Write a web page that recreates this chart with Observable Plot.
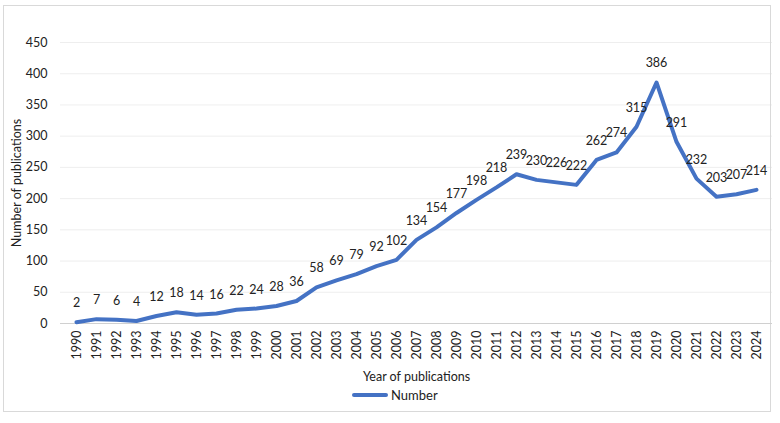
<!DOCTYPE html>
<html>
<head>
<meta charset="utf-8">
<script src="https://cdn.jsdelivr.net/npm/d3@7"></script>
<script src="https://cdn.jsdelivr.net/npm/@observablehq/plot@0.6"></script>
<style>
  html, body { margin: 0; padding: 0; background: #fff; }
  #wrap { position: relative; width: 780px; height: 423px; font-family: Lato, "Open Sans", sans-serif; }
  #frame { position: absolute; left: 3px; top: 5px; width: 768px; height: 407px; border: 1px solid #d9d9d9; box-sizing: border-box; }
  #chart { position: absolute; left: 0; top: 0; }
  #legend { position: absolute; left: 352px; top: 387px; display: flex; align-items: center; font-size: 13px; color: #222; }
  #legend .swatch { width: 36px; height: 4px; background: #4472c4; border-radius: 2px; margin-right: 3px; }
</style>
</head>
<body>
<div id="wrap">
  <div id="frame"></div>
  <div id="chart"></div>
  <div id="legend"><span class="swatch"></span><span>Number</span></div>
</div>
<script>
// Yearly publication counts
const years = ["1990","1991","1992","1993","1994","1995","1996","1997","1998","1999",
  "2000","2001","2002","2003","2004","2005","2006","2007","2008","2009",
  "2010","2011","2012","2013","2014","2015","2016","2017","2018","2019",
  "2020","2021","2022","2023","2024"];
const counts = [2, 7, 6, 4, 12, 18, 14, 16, 22, 24,
  28, 36, 58, 69, 79, 92, 102, 134, 154, 177,
  198, 218, 239, 230, 226, 222, 262, 274, 315, 386,
  291, 232, 203, 207, 214];
const yTicks = [0, 50, 100, 150, 200, 250, 300, 350, 400, 450];

const data = years.map((year, i) => ({year, count: counts[i]}));

const chart = Plot.plot({
  width: 780,
  height: 385,
  marginLeft: 60,
  marginRight: 8,
  marginTop: 42,
  marginBottom: 62,
  style: {fontFamily: "Lato, 'Open Sans', sans-serif", fontSize: "12px", color: "#222", background: "transparent"},
  x: {type: "band", domain: years, padding: 0},
  y: {domain: [0, 450]},
  marks: [
    Plot.gridY(yTicks, {stroke: "#d9d9d9", strokeOpacity: 0.45}),
    Plot.ruleY([0], {stroke: "#d0d0d0", strokeWidth: 1}),
    Plot.axisY(yTicks, {tickSize: 0, tickPadding: 13, fontSize: 12.5, label: "Number of publications", labelAnchor: "center", labelArrow: "none", labelOffset: 48}),
    Plot.axisX({tickSize: 0, tickPadding: 7, tickRotate: -90, fontSize: 12.5, label: "Year of publications", labelAnchor: "center", labelArrow: "none", labelOffset: 57}),
    Plot.line(data, {x: "year", y: "count", stroke: "#4472c4", strokeWidth: 4, strokeLinejoin: "round", strokeLinecap: "round"}),
    Plot.text(data, {x: "year", y: "count", text: "count", dy: -19, fontSize: 12.5, fill: "#222"})
  ]
});
document.getElementById("chart").appendChild(chart);
</script>
</body>
</html>
